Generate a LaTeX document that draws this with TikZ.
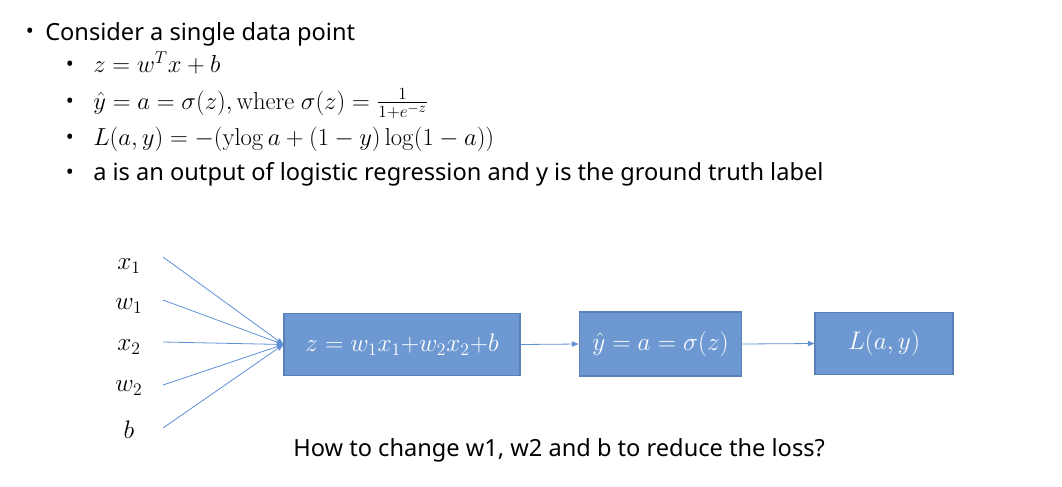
\documentclass[tikz,border=0pt]{standalone}
\usepackage{amsmath}
\usepackage{graphicx}
\usepackage[no-math]{fontspec}
\setmainfont{Noto Sans}
\usetikzlibrary{arrows.meta}
\definecolor{boxfill}{HTML}{6D98D1}
\definecolor{boxline}{HTML}{5A80B8}
\definecolor{linkc}{HTML}{5F90D6}
\newcommand{\bm}[1]{\scalebox{1.1}{\fontsize{17.28}{21}\selectfont #1}}
\newcommand{\lm}[1]{\scalebox{1.07}{\fontsize{17.28}{21}\selectfont #1}}
\tikzset{
  blk/.style={draw=boxline, line width=0.8pt, fill=boxfill, text=white, inner sep=0pt},
  lbl/.style={inner sep=0pt},
  link/.style={draw=linkc, line width=0.6pt, -{Triangle[length=5pt,width=4pt]}},
  txt/.style={anchor=base west, inner sep=0pt, font=\fontsize{17.7}{21}\selectfont},
  dot/.style={anchor=center, inner sep=0pt, font=\fontsize{16}{20}\selectfont}
}
\begin{document}
\begin{tikzpicture}[x=0.75pt,y=-0.75pt]
\useasboundingbox (0,0) rectangle (1062,486);
% text block
\node[dot] (b0) at (30,33) {•};
\node[txt] (t0) at (45,40) {Consider a single data point};
\node[dot] (b1) at (70,66) {•};
\node[txt] (t1) at (93,72) {\lm{$z = w^{T}x + b$}};
\node[dot] (b2) at (70,103) {•};
\node[txt] (t2) at (93,109) {\lm{$\hat{y} = a = \sigma(z), \mathrm{where}\ \sigma(z) = \frac{1}{1+e^{-z}}$}};
\node[dot] (b3) at (70,139) {•};
\node[txt] (t3) at (93,145) {\lm{$L(a,y) = -(\mathrm{ylog}\,a + (1-y)\log(1-a))$}};
\node[dot] (b4) at (70,174) {•};
\node[txt] (t4) at (93,180) {a is an output of logistic regression and y is the ground truth label};
% blocks
\node[blk, minimum width=177pt, minimum height=47pt] (z) at (402,344.5) {\bm{$z = w_1x_1{+}w_2x_2{+}b$}};
\node[blk, minimum width=122pt, minimum height=48pt] (a) at (660.5,344) {\bm{$\hat{y} = a = \sigma(z)$}};
\node[blk, minimum width=103.5pt, minimum height=47pt] (l) at (884,343.5) {\bm{$L(a,y)$}};
% inputs
\node[lbl] (x1) at (129,266) {\bm{$x_1$}};
\node[lbl] (w1) at (129,306) {\bm{$w_1$}};
\node[lbl] (x2) at (129,347) {\bm{$x_2$}};
\node[lbl] (w2) at (129,388) {\bm{$w_2$}};
\node[lbl] (bb) at (129,430) {\bm{$b$}};
\coordinate (s1) at (163,257);
\coordinate (s2) at (163,300);
\coordinate (s3) at (163,342);
\coordinate (s4) at (163,385);
\coordinate (s5) at (163,428);
\foreach \s in {s1,s2,s3,s4,s5} \draw[link] (\s) -- (z.west);
\draw[link] (z.east) -- (a.west);
\draw[link] (a.east) -- (l.west);
\node[txt] (q) at (293,456) {How to change w1, w2 and b to reduce the loss?};
\end{tikzpicture}
\end{document}
